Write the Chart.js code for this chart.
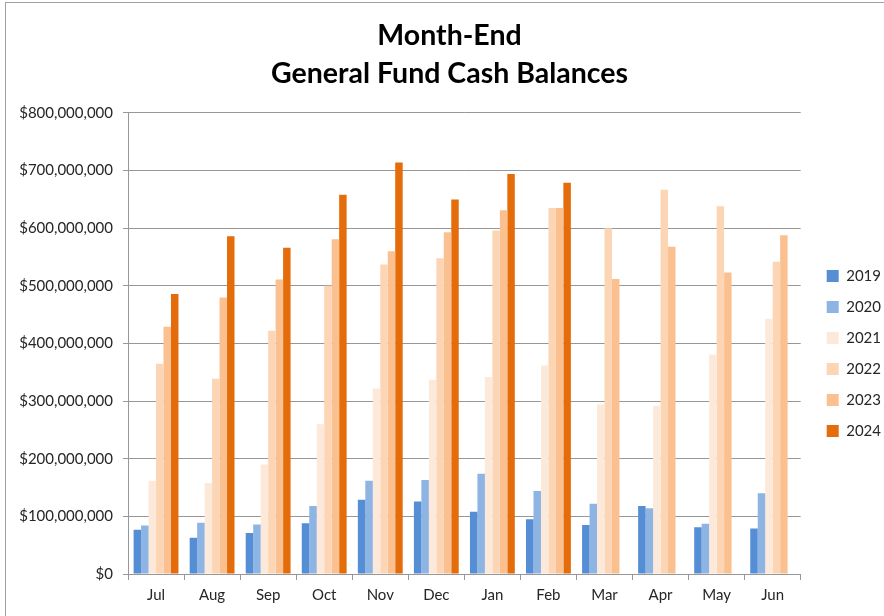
<!DOCTYPE html>
<html>
<head>
<meta charset="utf-8">
<script src="https://cdn.jsdelivr.net/npm/chart.js@4"></script>
<style>
    html, body { margin: 0; padding: 0; background: #fff; overflow: hidden; }
    #frame {
        position: absolute; left: 5px; top: 2px;
        width: 900px; height: 700px;
        border: 1px solid #a0a0a0; background: #fff;
    }
    #chartBox { position: absolute; left: 0; top: 0; width: 878px; height: 613px; }
</style>
</head>
<body>
<div id="frame"><div id="chartBox"><canvas id="cashChart"></canvas></div></div>
<script>
// 月と年度
const months = ['Jul', 'Aug', 'Sep', 'Oct', 'Nov', 'Dec', 'Jan', 'Feb', 'Mar', 'Apr', 'May', 'Jun'];
const years = ['2019', '2020', '2021', '2022', '2023', '2024'];

// 月末残高（百万ドル）
const fy2019 = [77, 63, 71, 88, 129, 126, 108, 95, 85, 118, 81, 79];
const fy2020 = [84, 89, 86, 118, 162, 163, 174, 144, 122, 114, 87, 140];
const fy2021 = [162, 158, 190, 260, 322, 337, 342, 362, 294, 292, 381, 443];
const fy2022 = [365, 339, 422, 500, 537, 548, 596, 635, 600, 667, 638, 542];
const fy2023 = [429, 480, 511, 581, 560, 593, 631, 635, 512, 568, 523, 588];
const fy2024 = [486, 586, 566, 658, 714, 650, 694, 679, null, null, null, null];

// 縦軸の目盛り
const yMax = 800000000;
const yStep = 100000000;

// 系列の色
const seriesColors = ['#558ED5', '#8EB4E3', '#FDE9D9', '#FCD5B5', '#FAC090', '#E46C0A'];

const allSeries = [fy2019, fy2020, fy2021, fy2022, fy2023, fy2024];

const textColor = '#262626';
const gridColor = '#979797';
const baseFont = 'Lato, "Noto Sans", sans-serif';

// 凡例の位置を調整（Excel風の余白）
const legendShift = {
    id: 'legendShift',
    afterLayout(chart) {
        const lg = chart.legend;
        lg.left += 10;
        lg.right += 10;
        lg.top += 47;
        lg.bottom += 47;
    }
};

new Chart(document.getElementById('cashChart'), {
    type: 'bar',
    data: {
        labels: months,
        datasets: years.map((year, i) => ({
            label: year,
            data: allSeries[i].map(v => v === null ? null : v * 1000000),
            backgroundColor: seriesColors[i],
            borderWidth: 0,
            categoryPercentage: 0.8,
            barPercentage: 1.0
        }))
    },
    options: {
        responsive: true,
        maintainAspectRatio: false,
        animation: false,
        layout: {
            padding: { left: 12, right: 3, top: 0, bottom: 6 }
        },
        scales: {
            x: {
                grid: {
                    display: true,
                    drawOnChartArea: false,
                    drawTicks: true,
                    tickLength: 6,
                    color: gridColor
                },
                border: { display: true, color: gridColor, width: 1 },
                ticks: {
                    color: textColor,
                    padding: 6,
                    font: { family: baseFont, size: 15 }
                }
            },
            y: {
                min: 0,
                max: yMax,
                afterFit: function(scale) {
                    scale.width = 110; // 縦軸の幅を固定
                },
                grid: {
                    color: gridColor,
                    lineWidth: 1,
                    tickLength: 5
                },
                border: { display: true, color: gridColor, width: 1 },
                ticks: {
                    stepSize: yStep,
                    color: textColor,
                    padding: 10,
                    font: { family: baseFont, size: 15 },
                    callback: function(value) {
                        return '$' + value.toLocaleString('en-US');
                    }
                }
            }
        },
        plugins: {
            title: {
                display: true,
                text: ['Month-End', 'General Fund Cash Balances'],
                color: '#000',
                font: { family: baseFont, size: 28.5, weight: 'bold', lineHeight: 1.333 },
                padding: { top: 14, bottom: 20 }
            },
            legend: {
                display: true,
                position: 'right',
                labels: {
                    boxWidth: 12,
                    boxHeight: 12,
                    padding: 16,
                    color: textColor,
                    font: { family: baseFont, size: 15 }
                }
            },
            tooltip: { enabled: false }
        }
    },
    plugins: [legendShift]
});
</script>
</body>
</html>
